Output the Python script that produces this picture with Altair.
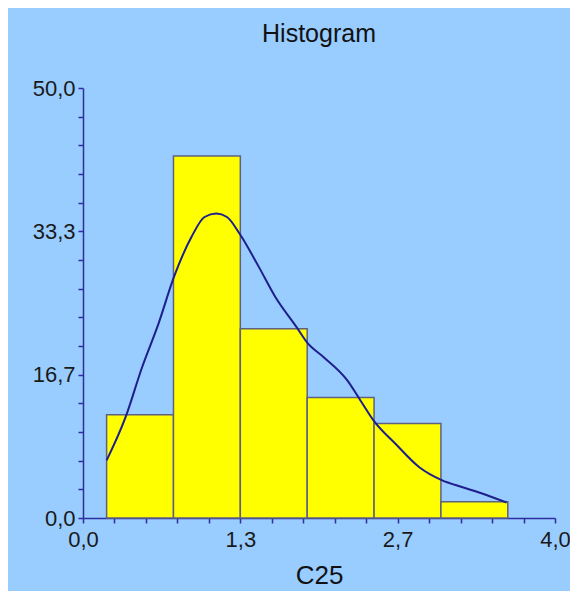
import altair as alt
import pandas as pd

# histogram bins (left/right edges) and bar heights
bin_start = [0.2, 0.7667, 1.3333, 1.9, 2.4667, 3.0333]
bin_end = [0.7667, 1.3333, 1.9, 2.4667, 3.0333, 3.6]
counts = [12.0, 42.1, 22.0, 14.0, 11.0, 1.9]

# fitted density curve
curve_x = [0.20, 0.36, 0.50, 0.64, 0.77, 0.92, 1.03, 1.13, 1.22, 1.33, 1.49, 1.63,
           1.81, 1.90, 2.04, 2.24, 2.35, 2.47, 2.65, 2.85, 3.04, 3.21, 3.35, 3.59]
curve_y = [6.7, 11.7, 17.5, 22.6, 28.0, 32.7, 35.0, 35.4, 35.0, 33.0, 29.2, 25.7,
           22.2, 20.4, 18.7, 16.0, 13.7, 11.2, 8.6, 5.9, 4.4, 3.6, 3.0, 1.8]

# axis ticks
x_ticks = [0, 0.2667, 0.5333, 0.8, 1.0667, 1.3333, 1.6, 1.8667, 2.1333, 2.4,
           2.6667, 2.9333, 3.2, 3.4667, 3.7333, 4.0]
x_labeled = [0, 1.3333, 2.6667, 4.0]
y_ticks = [0, 3.3333, 6.6667, 10, 13.3333, 16.6667, 20, 23.3333, 26.6667, 30,
           33.3333, 36.6667, 40, 43.3333, 46.6667, 50]
y_labeled = [0, 16.6667, 33.3333, 50]

bars_df = pd.DataFrame({"start": bin_start, "end": bin_end, "count": counts})
curve_df = pd.DataFrame({"x": curve_x, "y": curve_y})

FONT = "Liberation Sans"
AXIS_COLOR = "#2E2E9E"


def label_expr(vals):
    arr = "[" + ",".join(str(v) for v in vals) + "]"
    return f"indexof({arr}, datum.value) >= 0 ? replace(format(datum.value, '.1f'), '.', ',') : ''"


x_scale = alt.Scale(domain=[0, 4], nice=False, zero=False)
y_scale = alt.Scale(domain=[0, 50], nice=False)

x_axis = alt.Axis(values=x_ticks, tickCount=100, labelExpr=label_expr(x_labeled),
                  title="C25", labelPadding=6, titlePadding=12, labelFlush=False,
                  labelOverlap=False)
y_axis = alt.Axis(values=y_ticks, tickCount=100, labelExpr=label_expr(y_labeled),
                  title=None, labelPadding=3, labelOverlap=False)

bars = alt.Chart(bars_df).mark_bar(
    color="#FFFF00", stroke="#606080", strokeWidth=1.5
).encode(
    x=alt.X("start:Q", scale=x_scale, axis=x_axis),
    x2="end:Q",
    y=alt.Y("count:Q", scale=y_scale, axis=y_axis),
    y2=alt.datum(0),
)

line = alt.Chart(curve_df).mark_line(
    color="#1E1E8C", strokeWidth=2, interpolate="monotone"
).encode(
    x=alt.X("x:Q", scale=x_scale),
    y=alt.Y("y:Q", scale=y_scale),
)

chart = alt.layer(bars, line).properties(
    width=472,
    height=430,
    autosize=alt.AutoSizeParams(type="none"),
    padding={"left": 75, "top": 80, "right": 15, "bottom": 73},
    background="#99CCFF",
    title=alt.TitleParams("Histogram", font=FONT, fontSize=25, fontWeight="normal",
                          color="#111111", anchor="middle", offset=30),
).configure_view(
    stroke=None
).configure_axis(
    grid=False,
    domainColor=AXIS_COLOR,
    domainWidth=1.5,
    tickColor=AXIS_COLOR,
    tickWidth=1.5,
    tickSize=5,
    labelFont=FONT,
    labelFontSize=22,
    labelColor="#1A1A1A",
    titleFont=FONT,
    titleFontSize=26,
    titleFontWeight="normal",
    titleColor="#111111",
)

chart.save("out.html", embed_options={"renderer": "svg", "actions": False})
